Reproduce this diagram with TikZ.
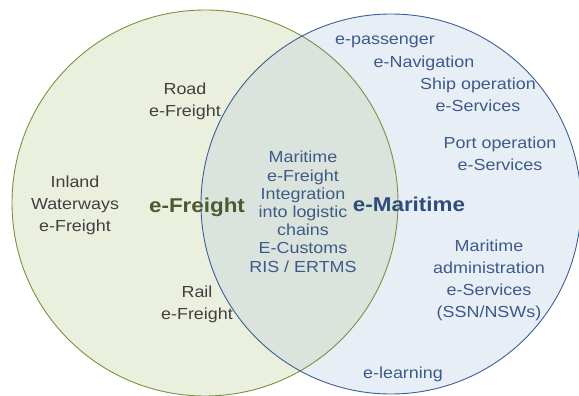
\documentclass[tikz,border=0pt]{standalone}
\usepackage{fontspec}
\setmainfont[FakeStretch=1.12]{Liberation Sans}
\usepackage{tikz}
\usetikzlibrary{positioning}
\definecolor{freightfill}{HTML}{EBF0DE}
\definecolor{maritimefill}{HTML}{E8EEF5}
\definecolor{bothfill}{HTML}{DBE4DC}
\definecolor{freightline}{HTML}{77933C}
\definecolor{maritimeline}{HTML}{3B5E98}
\definecolor{freighttext}{HTML}{404040}
\definecolor{freighthead}{HTML}{4A5A32}
\definecolor{maritimetext}{HTML}{3D5A8A}
\definecolor{maritimehead}{HTML}{2D4C7C}
\tikzset{
    freightlbl/.style={anchor=base,align=center,inner sep=0pt,text=freighttext,font=\fontsize{16}{22}\selectfont},
    maritimelbl/.style={anchor=base,align=center,inner sep=0pt,text=maritimetext,font=\fontsize{16}{22}\selectfont},
    sharedlbl/.style={anchor=base,align=center,inner sep=0pt,text=maritimetext,font=\fontsize{16}{18.2}\selectfont},
    headlbl/.style={anchor=base,inner sep=0pt,font=\bfseries\fontsize{20}{24}\selectfont},
    ring/.style={line width=0.9pt}
}

\begin{document}
\begin{tikzpicture}[x=1pt,y=-1pt]
  \useasboundingbox (0,0) rectangle (579,396);
  \coordinate (F) at (205,203);
  \coordinate (M) at (391,204);
  \fill[freightfill] (F) circle (193pt);
  \fill[maritimefill] (M) circle (190pt);
  \begin{scope}
    \clip (F) circle (193pt);
    \fill[bothfill] (M) circle (190pt);
  \end{scope}
  \draw[ring,freightline] (F) circle (193pt);
  \draw[ring,maritimeline] (M) circle (190pt);
  % e-Freight side (base = last line)
  \node[freightlbl] (road) at (185,117) {Road\\e-Freight};
  \node[freightlbl] (inland) at (75,231) {Inland\\Waterways\\e-Freight};
  \node[freightlbl] (rail) at (197,319) {Rail\\e-Freight};
  \node[headlbl,text=freighthead] (freight) at (197,212) {e-Freight};
  % overlap
  \node[sharedlbl] (shared) at (303,272) {Maritime\\e-Freight\\Integration\\into logistic\\chains\\E-Customs\\RIS / ERTMS};
  % e-Maritime side
  \node[headlbl,text=maritimehead] (maritime) at (409,211) {e-Maritime};
  \node[maritimelbl] (passenger) at (385,45) {e-passenger};
  \node[maritimelbl] (navigation) at (424,68) {e-Navigation};
  \node[maritimelbl] (ship) at (478,111) {Ship operation\\e-Services};
  \node[maritimelbl] (port) at (500,170) {Port operation\\e-Services};
  \node[maritimelbl] (admin) at (489,317) {Maritime\\administration\\e-Services\\(SSN/NSWs)};
  \node[maritimelbl] (learning) at (403,378) {e-learning};
\end{tikzpicture}
\end{document}
